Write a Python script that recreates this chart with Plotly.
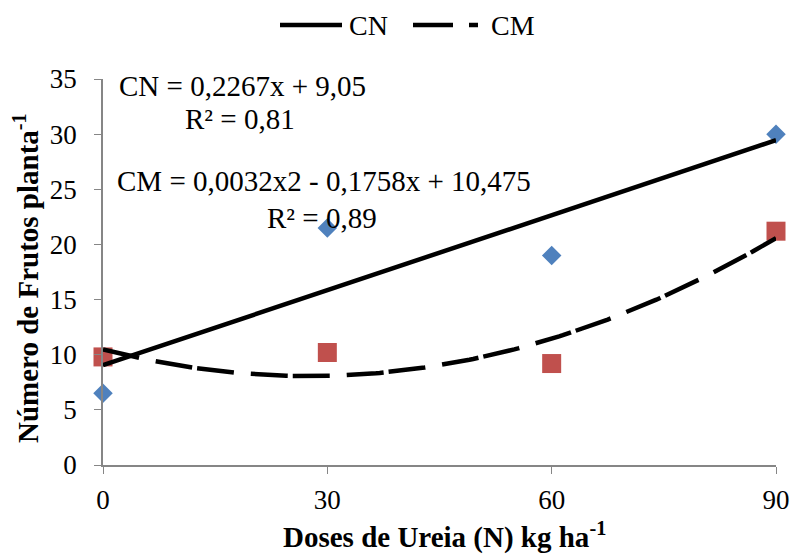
import numpy as np
import plotly.graph_objects as go

doses = [0, 30, 60, 90]
cn_values = [6.5, 21.5, 19.0, 30.0]
cm_values = [9.8, 10.2, 9.2, 21.2]

# trendline coefficients shown on the chart (highest degree first)
cn_coef = [0.2267, 9.05]
cm_coef = [0.0032, -0.1758, 10.475]

series_names = ["CN", "CM"]
cn_eq = ["CN = 0,2267x + 9,05", "R² = 0,81"]
cm_eq = ["CM = 0,0032x2 - 0,1758x + 10,475", "R² = 0,89"]
x_title = "<b>Doses de Ureia (N) kg ha<sup>-1</sup></b>"
y_title = "<b>Número de Frutos planta<sup>-1</sup></b>"

xs = np.linspace(0, 90, 181)

FONT = "Liberation Serif"
AX = "#868686"
DASH = "37px,17px,37px,5px"

fig = go.Figure()
fig.add_trace(go.Scatter(x=doses, y=cn_values, mode="markers", showlegend=False,
                         cliponaxis=False,
                         marker=dict(symbol="diamond", size=15, color="#4F81BD")))
fig.add_trace(go.Scatter(x=doses, y=cm_values, mode="markers", showlegend=False,
                         cliponaxis=False,
                         marker=dict(symbol="square", size=19, color="#C0504D")))
fig.add_trace(go.Scatter(x=xs, y=np.polyval(cn_coef, xs), mode="lines", name=series_names[0],
                         showlegend=False, line=dict(color="black", width=4.5)))
fig.add_trace(go.Scatter(x=xs, y=np.polyval(cm_coef, xs), mode="lines", name=series_names[1],
                         showlegend=False, line=dict(color="black", width=4.5, dash=DASH)))

# plot-area pixel geometry helpers
L, R, T, B = 103, 17, 79, 91
PW, PH = 793 - L - R, 556 - T - B
px = lambda p: (p - L) / PW
py = lambda p: (556 - B - p) / PH

def ann(x, y, text, anchor, size=29, angle=0):
    fig.add_annotation(x=px(x), y=py(y), xref="paper", yref="paper", text=text,
                       showarrow=False, xanchor=anchor, yanchor="middle", textangle=angle,
                       font=dict(family=FONT, size=size, color="black"))

ann(117, 86, cn_eq[0], "left")
ann(240, 119, cn_eq[1], "center")
ann(115, 181, cm_eq[0], "left")
ann(322, 218, cm_eq[1], "center")

# axis titles
ann(444, 535, x_title, "center", size=29)
ann(26, 278, y_title, "center", size=29, angle=-90)

# legend (drawn manually to match long sample lines)
fig.add_shape(type="line", xref="paper", yref="paper", x0=px(280), x1=px(342),
              y0=py(25), y1=py(25), line=dict(color="black", width=4.5))
ann(347, 26, series_names[0], "left", size=28)
fig.add_shape(type="line", xref="paper", yref="paper", x0=px(413), x1=px(453),
              y0=py(25), y1=py(25), line=dict(color="black", width=4.5))
fig.add_shape(type="line", xref="paper", yref="paper", x0=px(469), x1=px(478),
              y0=py(25), y1=py(25), line=dict(color="black", width=4.5))
ann(489, 26, series_names[1], "left", size=28)

fig.update_layout(
    width=793, height=556,
    margin=dict(l=L, r=R, t=T, b=B),
    plot_bgcolor="white", paper_bgcolor="white",
    font=dict(family=FONT, size=27, color="black"),
    showlegend=False,
    xaxis=dict(range=[0, 90], tickvals=doses, ticks="outside", ticklen=7,
               tickcolor=AX, linecolor=AX, linewidth=1.5, showgrid=False,
               zeroline=False, showline=True, automargin=False,
               ticklabelstandoff=3,
               tickfont=dict(family=FONT, size=27)),
    yaxis=dict(range=[0, 35], dtick=5, ticks="outside", ticklen=7,
               tickcolor=AX, linecolor=AX, linewidth=1.5, showgrid=False,
               zeroline=False, showline=True, automargin=False,
               ticklabelstandoff=12,
               tickfont=dict(family=FONT, size=27)),
)

fig.write_html("out.html")
